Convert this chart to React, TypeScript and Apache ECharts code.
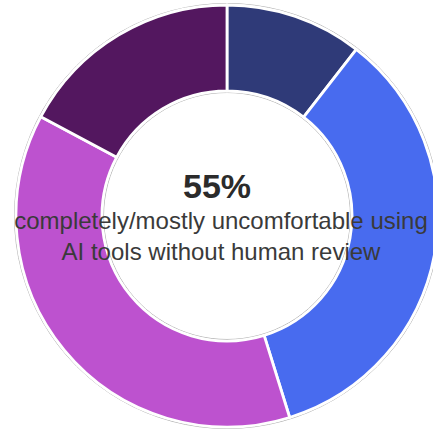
import React, { useEffect, useRef } from "react";
import * as echarts from "echarts";

const categories = ["Completely comfortable", "Mostly comfortable", "Mostly uncomfortable", "Completely uncomfortable"];
const values = [10.5, 34.7, 37.6, 17.2];
const colors = ["#2F3A78", "#486BEF", "#BD52CF", "#53175F"];
const headline = "55%";
const subtitleLines = ["completely/mostly uncomfortable using", "AI tools without human review"];

export default function App() {
  const ref = useRef<HTMLDivElement>(null);
  useEffect(() => {
    if (!ref.current) return;
    const chart = echarts.init(ref.current, undefined, { renderer: "svg" });
    const font = "'Liberation Sans', Arial, sans-serif";
    chart.setOption({
      animation: false,
      backgroundColor: "#ffffff",
      series: [
        {
          type: "pie",
          silent: true,
          center: [227, 216],
          radius: [123.5, 212.5],
          startAngle: 90,
          label: { show: false },
          labelLine: { show: false },
          z: 1,
          data: [{ value: 1, name: "outline" }],
          itemStyle: { color: "rgba(0,0,0,0)", borderColor: "#b5b5b5", borderWidth: 1 },
        },
        {
          type: "pie",
          silent: true,
          center: [227, 216],
          radius: [125, 211],
          startAngle: 90,
          clockwise: true,
          label: { show: false },
          labelLine: { show: false },
          z: 2,
          itemStyle: { borderColor: "#ffffff", borderWidth: 2.8 },
          data: categories.map((c, i) => ({ name: c, value: values[i], itemStyle: { color: colors[i] } })),
        },
      ],
      graphic: [
        {
          type: "text",
          z: 100,
          x: 217,
          y: 186,
          style: {
            text: headline,
            fill: "#2b2b2b",
            font: `bold 34px ${font}`,
            align: "center",
            verticalAlign: "middle",
          },
        },
        {
          type: "text",
          z: 100,
          x: 221,
          y: 236,
          style: {
            text: subtitleLines.join("\n"),
            fill: "#3a3a3a",
            font: `24px ${font}`,
            lineHeight: 31,
            align: "center",
            verticalAlign: "middle",
          },
        },
      ],
    });
    return () => chart.dispose();
  }, []);
  return (
    <div
      ref={ref}
      style={{ position: "fixed", left: 0, top: 0, width: 433, height: 430, background: "#fff" }}
    />
  );
}
